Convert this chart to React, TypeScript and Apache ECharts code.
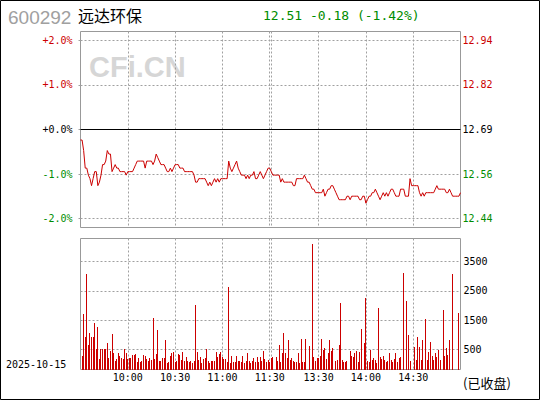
import React, { useEffect, useRef } from 'react';
import * as echarts from 'echarts';

const stockCode = '600292';
const stockName = '远达环保';
const quoteText = '12.51 -0.18 (-1.42%)';
const tradeDate = '2025-10-15';
const closedText = '(已收盘)';
const watermark = 'CFi.CN';
const prevClose = 12.69;

const timeLabels = ['10:00', '10:30', '11:00', '11:30', '13:30', '14:00', '14:30'];
const timeLabelSlots = [30, 60, 90, 120, 151, 181, 211];
const gridSlots = [30, 60, 90, 120, 121, 151, 181, 211];
const pctTicks = [-2, -1, 0, 1, 2];
const volTicks = [500, 1500, 2500, 3500];

// one price per minute slot (9:30-11:30, 13:00-15:00)
const prices = [
  12.66, 12.66, 12.63, 12.58, 12.58, 12.56, 12.55, 12.53, 12.55, 12.57,
  12.57, 12.53, 12.54, 12.56, 12.59, 12.59, 12.60, 12.63, 12.62, 12.62,
  12.57, 12.58, 12.59, 12.58, 12.58, 12.57, 12.57, 12.57, 12.57, 12.56,
  12.57, 12.57, 12.57, 12.57, 12.58, 12.59, 12.60, 12.60, 12.60, 12.60,
  12.60, 12.58, 12.60, 12.60, 12.60, 12.60, 12.59, 12.60, 12.62, 12.61,
  12.60, 12.59, 12.59, 12.59, 12.58, 12.57, 12.57, 12.58, 12.57, 12.58,
  12.59, 12.59, 12.59, 12.58, 12.58, 12.58, 12.57, 12.57, 12.57, 12.57,
  12.57, 12.57, 12.56, 12.54, 12.54, 12.55, 12.55, 12.55, 12.55, 12.55,
  12.54, 12.53, 12.54, 12.53, 12.54, 12.55, 12.54, 12.55, 12.54, 12.55,
  12.55, 12.55, 12.55, 12.55, 12.60, 12.58, 12.57, 12.58, 12.59, 12.60,
  12.58, 12.57, 12.56, 12.56, 12.56, 12.55, 12.56, 12.55, 12.56, 12.56,
  12.57, 12.55, 12.55, 12.56, 12.57, 12.56, 12.55, 12.56, 12.57, 12.58,
  12.58, 12.57, 12.56, 12.56, 12.56, 12.56, 12.56, 12.54, 12.55, 12.54,
  12.54, 12.54, 12.54, 12.54, 12.54, 12.53, 12.53, 12.55, 12.55, 12.55,
  12.55, 12.55, 12.56, 12.55, 12.54, 12.54, 12.53, 12.52, 12.52, 12.51,
  12.51, 12.51, 12.51, 12.51, 12.52, 12.50, 12.51, 12.52, 12.52, 12.53,
  12.53, 12.52, 12.51, 12.50, 12.49, 12.49, 12.49, 12.49, 12.49, 12.50,
  12.50, 12.49, 12.50, 12.50, 12.50, 12.50, 12.50, 12.49, 12.49, 12.50,
  12.50, 12.48, 12.49, 12.50, 12.50, 12.51, 12.51, 12.52, 12.51, 12.50,
  12.49, 12.50, 12.51, 12.50, 12.51, 12.50, 12.51, 12.52, 12.52, 12.51,
  12.50, 12.50, 12.50, 12.52, 12.52, 12.52, 12.50, 12.50, 12.50, 12.55,
  12.53, 12.53, 12.53, 12.53, 12.53, 12.51, 12.50, 12.51, 12.50, 12.51,
  12.51, 12.51, 12.51, 12.51, 12.51, 12.52, 12.53, 12.52, 12.52, 12.52,
  12.52, 12.52, 12.51, 12.51, 12.52, 12.51, 12.50, 12.50, 12.50, 12.50,
  12.50, 12.51,
];

// one volume per minute slot (null = no bar)
const volumes = [
  null, 273, 1693, 920, 3090, 648, 1045, 920, 920, 1386,
  500, 1261, 182, 500, 500, 500, 500, 727, 193, 443,
  1011, 386, 102, 170, 386, 273, 193, 159, 500, 364,
  159, 205, 205, 307, 307, 352, 80, 216, 80, 102,
  318, 273, 159, 102, 205, 136, 1568, 170, 341, 1159,
  102, 102, 205, 205, 818, 34, 68, 273, 364, 409,
  68, 102, 330, 307, 136, 409, 102, 239, 102, 80,
  102, 45, 102, 2011, 409, 136, 239, 34, 170, 205,
  500, 102, 34, 102, 102, 102, 409, 239, 341, 409,
  250, 170, 170, 68, 2624, 34, 273, 68, 68, 273,
  102, 102, 68, 273, 34, 102, 375, 102, 34, 102,
  205, 68, 239, 68, 239, 102, 443, 170, 68, 136,
  68, 205, 239, null, 239, 102, 648, 68, 375, 1056,
  375, 205, 818, 136, 205, 102, 68, 68, 375, 34,
  852, 68, 68, 852, null, 613, null, 4090, 239, 102,
  205, 205, 273, 852, 477, 545, 170, 375, 818, 443,
  545, null, 102, 136, 648, 2079, 136, 68, 68, 102,
  null, 443, 273, 239, 375, 443, 68, 409, 1193, null,
  716, 2249, 102, 68, 477, 136, 205, 136, 34, 1908,
  239, 170, 273, 136, 68, 102, 375, 136, 68, 170,
  375, 68, 205, 239, null, 3101, null, 2147, 988, 102,
  null, null, 579, 136, 920, 579, 136, 818, null, 1534,
  136, 409, 750, 273, 136, 375, 239, 477, 136, null,
  1840, 273, 545, 307, 818, null, 3067, null, null, null,
  1738, null,
];

const VOL_MIN = -185;
const VOL_MAX = 4285;
const PCT_RANGE = 2.2;

const RED = '#cc0000';
const GREEN = '#008c00';
const MONO = '"DejaVu Sans Mono", "Liberation Mono", monospace';
const dotted = { color: '#a0a0a0', width: 1, type: [2, 2] as number[] };

const richStyles = {
  r: { color: RED, fontFamily: MONO, fontSize: 10 },
  g: { color: GREEN, fontFamily: MONO, fontSize: 10 },
  z: { color: '#000000', fontFamily: MONO, fontSize: 10 },
};

const styleKey = (v: number) => (v > 0.0001 ? 'r' : v < -0.0001 ? 'g' : 'z');

const fmtPct = (v: number) => {
  const s = (v >= 0 ? '+' : '') + v.toFixed(1) + '%';
  return `{${styleKey(v)}|${s}}`;
};
const fmtPrice = (v: number) => {
  const p = (prevClose * (1 + v / 100)).toFixed(2);
  return `{${styleKey(v)}|${p}}`;
};

function buildOption() {
  const lineData = prices.map((p, i) => [i, ((p - prevClose) / prevClose) * 100]);
  const volData: number[][] = [];
  volumes.forEach((v, i) => {
    if (v != null) volData.push([i, v]);
  });

  return {
    animation: false,
    backgroundColor: '#ffffff',
    textStyle: { fontFamily: MONO },
    grid: [
      { left: 80.5, top: 31.5, width: 380, height: 196, show: true, borderColor: '#999999', borderWidth: 1, backgroundColor: 'transparent' },
      { left: 80.5, top: 238.5, width: 380, height: 131, show: true, borderColor: '#999999', borderWidth: 1, backgroundColor: 'transparent' },
    ],
    xAxis: [
      {
        type: 'value', gridIndex: 0, min: 0, max: prices.length - 1,
        axisLine: { show: false },
        axisTick: { show: false, customValues: gridSlots },
        axisLabel: { show: false },
        splitLine: { show: true, lineStyle: dotted },
      },
      {
        type: 'value', gridIndex: 1, min: 0, max: prices.length - 1,
        axisLine: { show: false },
        axisTick: { show: false, customValues: gridSlots },
        axisLabel: {
          show: true,
          customValues: timeLabelSlots,
          formatter: (v: number) => {
            const k = timeLabelSlots.indexOf(Math.round(v));
            return k >= 0 ? timeLabels[k] : '';
          },
          fontFamily: MONO, fontSize: 10, color: '#000000', margin: 3,
        },
        splitLine: { show: true, lineStyle: dotted },
      },
    ],
    yAxis: [
      {
        type: 'value', gridIndex: 0, position: 'left', min: -PCT_RANGE, max: PCT_RANGE,
        axisLine: { show: false },
        axisTick: { show: true, customValues: pctTicks, length: 4, lineStyle: dotted },
        axisLabel: { customValues: pctTicks, formatter: fmtPct, rich: richStyles, margin: 8, fontFamily: MONO, fontSize: 10 },
        splitLine: { show: true, lineStyle: dotted },
      },
      {
        type: 'value', gridIndex: 0, position: 'right', min: -PCT_RANGE, max: PCT_RANGE,
        axisLine: { show: false },
        axisTick: { show: false, customValues: pctTicks },
        axisLabel: { customValues: pctTicks, formatter: fmtPrice, rich: richStyles, margin: 2, fontFamily: MONO, fontSize: 10 },
        splitLine: { show: false },
      },
      {
        type: 'value', gridIndex: 1, position: 'right', min: VOL_MIN, max: VOL_MAX,
        axisLine: { show: false },
        axisTick: { show: false, customValues: volTicks },
        axisLabel: {
          customValues: volTicks, margin: 3, fontFamily: MONO, fontSize: 10, color: '#000000',
          formatter: (v: number) => String(Math.round(v)),
        },
        splitLine: { show: true, lineStyle: dotted },
      },
    ],
    series: [
      {
        type: 'line', xAxisIndex: 0, yAxisIndex: 0,
        data: lineData, showSymbol: false, symbol: 'none',
        lineStyle: { color: RED, width: 1 },
        itemStyle: { color: RED },
        markLine: {
          silent: true, symbol: ['none', 'none'], label: { show: false },
          lineStyle: { color: '#000000', width: 1, type: 'solid' },
          data: [{ yAxis: 0 }],
        },
        z: 3,
      },
      {
        type: 'custom', xAxisIndex: 1, yAxisIndex: 2,
        data: volData,
        encode: { x: 0, y: 1 },
        renderItem: (params: any, api: any) => {
          const i = api.value(0);
          const v = api.value(1);
          if (v == null || isNaN(v)) return null;
          const top = api.coord([i, v]);
          const base = api.coord([i, VOL_MIN]);
          const x = Math.floor(top[0]);
          const y0 = Math.round(top[1]);
          const y1 = Math.round(base[1]);
          return {
            type: 'rect',
            shape: { x, y: y0, width: 1, height: y1 - y0 },
            style: { fill: RED },
          };
        },
      },
    ],
    graphic: [
      {
        type: 'text', left: 89, top: 52, z: 0, silent: true,
        style: { text: watermark, fill: '#d6d6d6', font: 'bold 29px "Liberation Sans", Arial, sans-serif' },
      },
      {
        type: 'text', x: 8, y: 17, silent: true,
        style: { text: stockCode, fill: '#a0a0a0', font: '19px "Liberation Sans", Arial, sans-serif', verticalAlign: 'middle' },
      },
      {
        type: 'text', x: 78, y: 15, silent: true,
        style: { text: stockName, fill: '#000000', font: '16px "Noto Sans CJK SC", sans-serif', verticalAlign: 'middle' },
      },
      {
        type: 'text', x: 263, y: 15, silent: true,
        style: { text: quoteText, fill: GREEN, font: '13px "DejaVu Sans Mono", monospace', verticalAlign: 'middle' },
      },
      {
        type: 'text', x: 6, y: 364, silent: true,
        style: { text: tradeDate, fill: '#000000', font: '10px "DejaVu Sans Mono", monospace', verticalAlign: 'middle' },
      },
      {
        type: 'text', x: 463, y: 382, silent: true,
        style: { text: closedText, fill: '#000000', font: '13px "Noto Sans CJK SC", sans-serif', verticalAlign: 'middle' },
      },
      {
        type: 'rect', silent: true, z: 100,
        shape: { x: 0.5, y: 0.5, width: 539, height: 399 },
        style: { fill: 'none', stroke: '#000000', lineWidth: 1 },
      },
    ],
  };
}

export default function App() {
  const ref = useRef<HTMLDivElement>(null);
  useEffect(() => {
    document.body.style.margin = '0';
    if (!ref.current) return;
    const chart = echarts.init(ref.current, undefined, { renderer: 'svg', width: 540, height: 400 });
    chart.setOption(buildOption() as any);
    return () => {
      chart.dispose();
    };
  }, []);
  return <div ref={ref} style={{ width: 540, height: 400 }} />;
}
